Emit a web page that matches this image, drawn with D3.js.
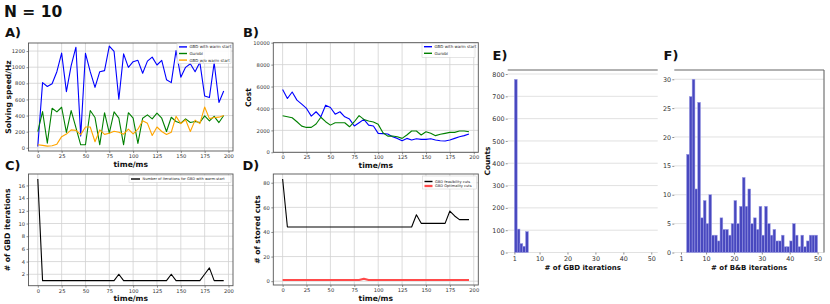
<!DOCTYPE html>
<html>
<head>
<meta charset="utf-8">
<title>GBD vs Gurobi, N = 10</title>
<script src="https://d3js.org/d3.v7.min.js"></script>
<style>
  body { margin: 0; background: #fff; }
  svg { display: block; font-family: "DejaVu Sans", sans-serif; }
  .tick text { fill: #333; }
</style>
</head>
<body>
<svg width="830" height="304"></svg>
<script>
// time axis shared by the four line panels (ms)
var time = [0, 5, 10, 15, 20, 25, 30, 35, 40, 45, 50, 55, 60, 65, 70, 75, 80, 85, 90, 95,
            100, 105, 110, 115, 120, 125, 130, 135, 140, 145, 150, 155, 160, 165, 170, 175, 180, 185, 190, 195];
var timeTicks = [0, 25, 50, 75, 100, 125, 150, 175, 200];

// A) solving speed (Hz)
var speedGbdWarm = [16, 808, 760, 795, 944, 1175, 697, 1020, 1248, 145, 1171, 944, 750, 944, 957, 1262, 1195, 602, 1165, 998,
                    1068, 1085, 924, 1075, 1125, 1027, 1085, 845, 808, 1206, 876, 998, 1042, 944, 1060, 643, 623, 1055, 562, 705];
var speedGurobi = [200, 450, 58, 490, 445, 503, 190, 462, 250, 37, 37, 462, 375, 37, 435, 181, 445, 367, 37, 435,
                   367, 55, 367, 408, 358, 430, 367, 202, 379, 326, 305, 358, 313, 326, 313, 396, 334, 390, 313, 400];
var speedGbdCold = [37, 30, 20, 25, 45, 138, 170, 222, 216, 163, 258, 258, 75, 222, 166, 181, 205, 192, 169, 231,
                    173, 231, 335, 303, 152, 258, 202, 165, 193, 390, 300, 348, 202, 343, 300, 505, 362, 375, 380, 400];
var speedTicks = [0, 200, 400, 600, 800, 1000, 1200];

// B) cost
var costGbdWarm = [5730, 4910, 5500, 4760, 4400, 4000, 3300, 3700, 3240, 4300, 4090, 3480, 3700, 3240, 3030, 2400, 2700, 3000, 2480, 2400,
                   1730, 1700, 1670, 1420, 1270, 1060, 1270, 1120, 1240, 1180, 1180, 1240, 1120, 1060, 1030, 1120, 1270, 1420, 1520, 1670];
var costGurobi = [3330, 3240, 3150, 2790, 2390, 2270, 2270, 2580, 3200, 2790, 2480, 2700, 2700, 2700, 2330, 2790, 3350, 3000, 2850, 2760,
                  2550, 1790, 1480, 1480, 1420, 1270, 1580, 1940, 1940, 1580, 1880, 1730, 1520, 1640, 1730, 1820, 1820, 1940, 1940, 1880];
var costTicks = [0, 2000, 4000, 6000, 8000, 10000];

// C) GBD iterations
var gbdIters = [17, 1, 1, 1, 1, 1, 1, 1, 1, 1, 1, 1, 1, 1, 1, 1, 1, 2, 1, 1,
                1, 1, 1, 1, 1, 1, 1, 1, 2, 1, 1, 1, 1, 1, 1, 2, 3, 1, 1, 1];
var gbdIterTicks = [2, 4, 6, 8, 10, 12, 14, 16];

// D) stored cuts
var feasCuts = [83, 44, 44, 44, 44, 44, 44, 44, 44, 44, 44, 44, 44, 44, 44, 44, 44, 44, 44, 44,
                44, 44, 44, 44, 44, 44, 44, 44, 54, 47, 47, 47, 47, 47, 47, 57, 53, 50, 50, 50];
var optCuts = [1, 1, 1, 1, 1, 1, 1, 1, 1, 1, 1, 1, 1, 1, 1, 1, 1, 2, 1, 1,
               1, 1, 1, 1, 1, 1, 1, 1, 1, 1, 1, 1, 1, 1, 1, 1, 1, 1, 1, 1];
var cutTicks = [0, 20, 40, 60, 80];

// E) histogram of GBD iterations
var gbdBins = [1, 2, 3, 4, 5];
var gbdCounts = [776, 105, 40, 28, 94];
var gbdCountTicks = [0, 100, 200, 300, 400, 500, 600, 700, 800];

// F) histogram of B&B iterations
var bbBins = [3, 4, 5, 6, 7, 8, 9, 10, 11, 12, 13, 14, 15, 16, 17, 18, 19, 20, 21, 22, 23, 24, 25,
              26, 27, 28, 29, 30, 31, 32, 33, 34, 35, 36, 37, 38, 39, 40, 41, 42, 43, 44, 45, 46, 47, 48, 49];
var bbCounts = [17, 27, 30, 11, 26, 6, 9, 5, 10, 3, 3, 2, 6, 4, 4, 3, 5, 9, 5, 8, 13, 8, 11,
                5, 6, 4, 8, 3, 8, 5, 3, 4, 2, 2, 3, 1, 1, 2, 5, 3, 1, 3, 1, 2, 3, 3, 3];
var bbCountTicks = [0, 5, 10, 15, 20, 25, 30];
var iterTicks = [1, 10, 20, 30, 40, 50];

var svg = d3.select('svg');
var plain = d3.format('d');

function label(txt, x, y, size, opts) {
  opts = opts || {};
  var t = svg.append('text')
    .text(txt)
    .attr('x', x).attr('y', y)
    .attr('font-size', size)
    .attr('font-weight', opts.weight || 'bold')
    .attr('fill', '#111')
    .attr('text-anchor', opts.anchor || 'start');
  if (opts.rotate) t.attr('transform', 'rotate(-90,' + x + ',' + y + ')');
  return t;
}

function styleAxis(sel, size) {
  sel.selectAll('.domain').remove();
  sel.selectAll('.tick line').attr('stroke', '#444').attr('stroke-width', 0.6);
  sel.selectAll('.tick text').attr('font-size', size).attr('font-family', '"DejaVu Sans", sans-serif');
}

function linePanel(o) {
  var g = svg.append('g');
  var x = d3.scaleLinear().domain([-9.75, 204.75]).range([o.left, o.right]);
  var y = d3.scaleLinear().domain(o.yDomain).range([o.bottom, o.top]);

  g.selectAll('.vgrid').data(timeTicks).enter().append('line')
    .attr('x1', function(d) { return x(d); }).attr('x2', function(d) { return x(d); })
    .attr('y1', o.top).attr('y2', o.bottom)
    .attr('stroke', '#d2d2d2').attr('stroke-width', 0.8);
  g.selectAll('.hgrid').data(o.yTicks).enter().append('line')
    .attr('x1', o.left).attr('x2', o.right)
    .attr('y1', function(d) { return y(d); }).attr('y2', function(d) { return y(d); })
    .attr('stroke', '#d2d2d2').attr('stroke-width', 0.8);

  var ax = g.append('g').attr('transform', 'translate(0,' + o.bottom + ')')
    .call(d3.axisBottom(x).tickValues(timeTicks).tickFormat(plain).tickSize(2).tickPadding(1.5));
  styleAxis(ax, 5.2);
  var ay = g.append('g').attr('transform', 'translate(' + o.left + ',0)')
    .call(d3.axisLeft(y).tickValues(o.yTicks).tickFormat(plain).tickSize(2).tickPadding(1.5));
  styleAxis(ay, 5.2);

  o.series.forEach(function(s) {
    g.append('path').datum(s.values)
      .attr('d', d3.line().x(function(d, i) { return x(time[i]); }).y(function(d) { return y(d); }))
      .attr('fill', 'none')
      .attr('stroke', s.color)
      .attr('stroke-width', s.width || 1.1)
      .attr('stroke-linejoin', 'round');
  });

  g.append('rect')
    .attr('x', o.left).attr('y', o.top)
    .attr('width', o.right - o.left).attr('height', o.bottom - o.top)
    .attr('fill', 'none').attr('stroke', '#555').attr('stroke-width', 0.9);

  // legend
  var L = o.legend;
  var lg = g.append('g');
  lg.append('rect')
    .attr('x', L.x).attr('y', L.y).attr('width', L.w).attr('height', L.h)
    .attr('fill', '#fff').attr('fill-opacity', 0.85)
    .attr('stroke', '#ccc').attr('stroke-width', 0.5);
  lg.selectAll('.key').data(o.series).enter().append('line')
    .attr('x1', L.x + 2).attr('x2', L.x + 2 + L.line)
    .attr('y1', function(d, i) { return L.y + L.first + i * L.row; })
    .attr('y2', function(d, i) { return L.y + L.first + i * L.row; })
    .attr('stroke', function(d) { return d.color; })
    .attr('stroke-width', function(d) { return (d.width || 1.1) + 0.3; });
  lg.selectAll('.keytext').data(o.series).enter().append('text')
    .text(function(d) { return d.name; })
    .attr('x', L.x + 4.5 + L.line)
    .attr('y', function(d, i) { return L.y + L.first + i * L.row + L.font * 0.35; })
    .attr('font-size', L.font).attr('fill', '#222');

  label(o.ylabel, o.ylabelX, (o.top + o.bottom) / 2, 7.6, {anchor: 'middle', rotate: true});
  label('time/ms', (o.left + o.right) / 2, o.bottom + 15.5, 7.6, {anchor: 'middle'});
}

function histPanel(o) {
  var g = svg.append('g');
  var x = d3.scaleLinear().domain([-1.4, 52.3]).range([o.left, o.right]);
  var y = d3.scaleLinear().domain(o.yDomain).range([o.bottom, o.top]);

  g.selectAll('.hgrid').data(o.yTicks).enter().append('line')
    .attr('x1', o.left).attr('x2', o.right)
    .attr('y1', function(d) { return y(d); }).attr('y2', function(d) { return y(d); })
    .attr('stroke', '#dedede').attr('stroke-width', 0.9);

  g.selectAll('.bar').data(o.bins).enter().append('rect')
    .attr('x', function(d) { return x(d); })
    .attr('width', function(d) { return x(d + 1) - x(d); })
    .attr('y', function(d, i) { return y(o.counts[i]); })
    .attr('height', function(d, i) { return y(0) - y(o.counts[i]); })
    .attr('fill', '#4848bf')
    .attr('stroke', '#9d9de6').attr('stroke-width', 0.5);

  g.append('line')
    .attr('x1', o.left).attr('x2', o.right).attr('y1', o.top).attr('y2', o.top)
    .attr('stroke', '#666').attr('stroke-width', 1.1);
  if (o.rightSpine) {
    g.append('line')
      .attr('x1', o.right).attr('x2', o.right).attr('y1', o.top).attr('y2', o.bottom)
      .attr('stroke', '#666').attr('stroke-width', 1.1);
  }

  var ay = g.append('g').attr('transform', 'translate(' + o.left + ',0)')
    .call(d3.axisLeft(y).tickValues(o.yTicks).tickFormat(plain).tickSize(2).tickPadding(1.2));
  styleAxis(ay, 6.4);
  var ax = g.append('g').attr('transform', 'translate(0,' + o.bottom + ')')
    .call(d3.axisBottom(x).tickValues(iterTicks).tickFormat(plain).tickSize(2).tickPadding(1.5));
  styleAxis(ax, 6.4);
  ay.selectAll('.tick text').attr('fill', '#444');
  ax.selectAll('.tick text').attr('fill', '#444');

  label(o.xlabel, (o.left + o.right) / 2, o.bottom + 17, 7, {anchor: 'middle'});
}

// title and panel letters
label('N = 10', 4, 17, 15.5);
label('A)', 5, 37, 13);
label('B)', 243, 36.5, 13);
label('C)', 5, 169.5, 13);
label('D)', 242.5, 169.5, 13);
label('E)', 492.5, 60, 13);
label('F)', 663.5, 60, 13);

linePanel({
  left: 28.5, right: 233, top: 43, bottom: 151,
  yDomain: [-40, 1300], yTicks: speedTicks,
  ylabel: 'Solving speed/Hz', ylabelX: 10.5,
  series: [
    {name: 'GBD with warm start', values: speedGbdWarm, color: '#0000ff'},
    {name: 'Gurobi', values: speedGurobi, color: '#008000'},
    {name: 'GBD w/o warm start', values: speedGbdCold, color: '#ffa500'}
  ],
  legend: {x: 177, y: 43.5, w: 54, h: 20, first: 3.4, row: 6.6, line: 8, font: 4}
});

linePanel({
  left: 273.3, right: 478.3, top: 42.7, bottom: 152.3,
  yDomain: [0, 10000], yTicks: costTicks,
  ylabel: 'Cost', ylabelX: 251,
  series: [
    {name: 'GBD with warm start', values: costGbdWarm, color: '#0000ff'},
    {name: 'Gurobi', values: costGurobi, color: '#008000'}
  ],
  legend: {x: 422, y: 43.3, w: 53, h: 14, first: 3.4, row: 6.6, line: 8, font: 4}
});

linePanel({
  left: 28.5, right: 233, top: 174, bottom: 285.7,
  yDomain: [0.2, 17.8], yTicks: gbdIterTicks,
  ylabel: '# of GBD iterations', ylabelX: 10.5,
  series: [
    {name: 'Number of iterations for GBD with warm-start', values: gbdIters, color: '#000'}
  ],
  legend: {x: 129, y: 175.5, w: 102, h: 7, first: 3.5, row: 6.6, line: 9, font: 3.6}
});

linePanel({
  left: 273.3, right: 478.3, top: 174, bottom: 285,
  yDomain: [-3.1, 87.1], yTicks: cutTicks,
  ylabel: '# of stored cuts', ylabelX: 260,
  series: [
    {name: 'GBD feasibility cuts', values: feasCuts, color: '#000'},
    {name: 'GBD Optimality cuts', values: optCuts, color: '#ff4a4a', width: 2}
  ],
  legend: {x: 422.5, y: 176, w: 54, h: 13, first: 5.5, row: 4.5, line: 8, font: 3.6}
});

histPanel({
  left: 507.7, right: 657.7, top: 70, bottom: 252.5,
  yDomain: [0, 818], yTicks: gbdCountTicks,
  bins: gbdBins, counts: gbdCounts,
  xlabel: '# of GBD iterations'
});
label('Counts', 489.5, 161, 7.4, {anchor: 'middle', rotate: true});

histPanel({
  left: 674.3, right: 824, top: 70, bottom: 252.5,
  yDomain: [0, 31.6], yTicks: bbCountTicks,
  bins: bbBins, counts: bbCounts,
  xlabel: '# of B&B iterations', rightSpine: true
});
</script>
</body>
</html>
